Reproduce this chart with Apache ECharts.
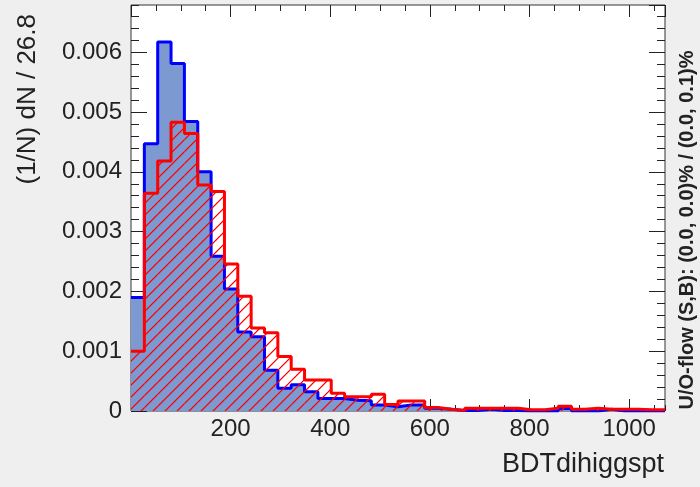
<!DOCTYPE html>
<html>
<head>
<meta charset="utf-8">
<script src="https://cdn.jsdelivr.net/npm/echarts@6/dist/echarts.min.js"></script>
<style>
html,body{margin:0;padding:0;background:#efefef;}
#chart{width:700px;height:487px;}
</style>
</head>
<body>
<div id="chart"></div>
<script>
// Histogram binning (40 bins of 26.8 from 0 to 1072)
const binWidth = 26.8;
const nBins = 40;
const xMin = 0;
const xMax = 1072;

// Signal (blue, filled) : (1/N) dN / 26.8
const signalValues = [
  0.00190, 0.00447, 0.00617, 0.00581, 0.00484, 0.00400, 0.00259, 0.00204, 0.00132, 0.00124,
  0.00068, 0.00038, 0.00044, 0.00032, 0.00021, 0.00021, 0.00018, 0.00017, 0.00010, 0.00007,
  0.00010, 0.00010, 0.000045, 0.00003, 0.00001, 0.00001, 0.00003, 0.00001, 0.00001, 0.0,
  0.0, 0.0, 0.00004, 0.0, 0.0, 0.00003, 0.0, 0.0, 0.0, 0.0
];

// Background (red, hatched)
const backgroundValues = [
  0.00100, 0.00364, 0.00418, 0.00483, 0.00464, 0.00378, 0.00367, 0.00246, 0.00192, 0.00139,
  0.00131, 0.00091, 0.00070, 0.00052, 0.00052, 0.000295, 0.00024, 0.00024, 0.00028, 0.00011,
  0.000167, 0.000167, 0.00006, 0.00003, 0.00001, 0.000045, 0.000045, 0.000045, 0.000045, 0.00002,
  0.00002, 0.000045, 0.00008, 0.00003, 0.000045, 0.00003, 0.00003, 0.00003, 0.00002, 0.00002
];

const yMax = 0.00679;
const xTickLabels = ['200', '400', '600', '800', '1000'];
const yTickLabels = ['0', '0.001', '0.002', '0.003', '0.004', '0.005', '0.006'];

const xTitle = 'BDTdihiggspt';
const yTitle = '(1/N) dN / 26.8';
const flowText = 'U/O-flow (S,B): (0.0, 0.0)% / (0.0, 0.1)%';

function edge(i) { return +(xMin + i * binWidth).toFixed(4); }
function stepData(vals) {
  const out = [];
  for (let i = 0; i <= nBins; i++) out.push([edge(i), vals[Math.min(i, nBins - 1)]]);
  return out;
}
function binData(vals) {
  return vals.map((v, i) => [edge(i), edge(i + 1), v]);
}

// hatch pattern tile, built pixel by pixel (red diagonal "/" lines)
const TILE = 12;
const hatch = document.createElement('canvas');
hatch.width = TILE; hatch.height = TILE;
(function(){
  const c = hatch.getContext('2d');
  const img = c.createImageData(TILE, TILE);
  for (let y = 0; y < TILE; y++) {
    for (let x = 0; x < TILE; x++) {
      const d = (x + y) % TILE;
      let a = 0;
      if (d === TILE - 1) a = 255;
      else if (d === 0) a = 120;
      else if (d === TILE - 2) a = 70;
      const k = (y * TILE + x) * 4;
      img.data[k] = 255; img.data[k + 1] = 0; img.data[k + 2] = 0; img.data[k + 3] = a;
    }
  }
  c.putImageData(img, 0, 0);
})();

const FONT = "'Liberation Sans', Arial, Helvetica, sans-serif";
const TXT = '#222';
const AX = '#222';

function xAx(pos, interval, len, labels) {
  return {
    type: 'value', position: pos, offset: 0, min: xMin, max: xMax, interval: interval,
    axisLine: { show: false, onZero: false },
    axisTick: { show: true, inside: true, length: len, lineStyle: { color: AX, width: 1 } },
    axisLabel: labels ? {
      show: true, fontSize: 24, color: TXT, fontFamily: FONT, margin: 6,
      showMinLabel: false, showMaxLabel: false,
      formatter: v => (xTickLabels.indexOf(String(v)) >= 0 ? String(v) : '')
    } : { show: false },
    splitLine: { show: false }
  };
}
function yAx(pos, interval, len, labels) {
  return {
    type: 'value', position: pos, offset: 0, min: 0, max: yMax, interval: interval,
    axisLine: { show: false, onZero: false },
    axisTick: { show: true, inside: true, length: len, lineStyle: { color: AX, width: 1 } },
    axisLabel: labels ? {
      show: true, fontSize: 24, color: TXT, fontFamily: FONT, margin: 9,
      showMaxLabel: false,
      formatter: v => { const s = String(+v.toFixed(4)); return yTickLabels.indexOf(s) >= 0 ? s : ''; }
    } : { show: false },
    splitLine: { show: false }
  };
}

const chart = echarts.init(document.getElementById('chart'), null, { renderer: 'canvas' });
chart.setOption({
  backgroundColor: '#efefef',
  animation: false,
  grid: { left: 131, right: 35, top: 5, bottom: 76, show: true, backgroundColor: '#ffffff', borderColor: '#333', borderWidth: 1, z: 0 },
  xAxis: [
    xAx('bottom', 200, 12, true),
    xAx('bottom', 50, 6, false),
    xAx('top', 200, 12, false),
    xAx('top', 50, 6, false)
  ],
  yAxis: [
    yAx('left', 0.001, 16, true),
    yAx('left', 0.0002, 8, false),
    yAx('right', 0.001, 16, false),
    yAx('right', 0.0002, 8, false)
  ],
  series: [
    {
      type: 'line', name: 'Signal', step: 'end', symbol: 'none', z: 2,
      data: stepData(signalValues),
      lineStyle: { color: '#0000ff', width: 3 },
      areaStyle: { color: '#7d99d1', opacity: 1 }
    },
    {
      type: 'custom', name: 'BackgroundHatch', z: 3, clip: true,
      data: binData(backgroundValues),
      encode: { x: [0, 1], y: 2 },
      renderItem: function (params, api) {
        const p0 = api.coord([api.value(0), api.value(2)]);
        const p1 = api.coord([api.value(1), 0]);
        return {
          type: 'rect',
          shape: { x: p0[0], y: p0[1], width: p1[0] - p0[0], height: p1[1] - p0[1] },
          style: { fill: { image: hatch, repeat: 'repeat' }, stroke: null }
        };
      }
    },
    {
      type: 'line', name: 'Background', step: 'end', symbol: 'none', z: 4,
      data: stepData(backgroundValues),
      lineStyle: { color: '#ff0000', width: 3 }
    }
  ],
  graphic: [
    { type: 'text', x: 664, y: 465, style: { text: xTitle, font: '27px ' + FONT, fill: TXT, align: 'right', verticalAlign: 'middle' } },
    { type: 'text', x: 28, y: 14, rotation: Math.PI / 2, style: { text: yTitle, font: '26px ' + FONT, fill: TXT, align: 'right', verticalAlign: 'middle' } },
    { type: 'text', x: 687, y: 230, rotation: Math.PI / 2, style: { text: flowText, font: 'bold 20px ' + FONT, fill: TXT, align: 'center', verticalAlign: 'middle' } }
  ]
});
</script>
</body>
</html>
